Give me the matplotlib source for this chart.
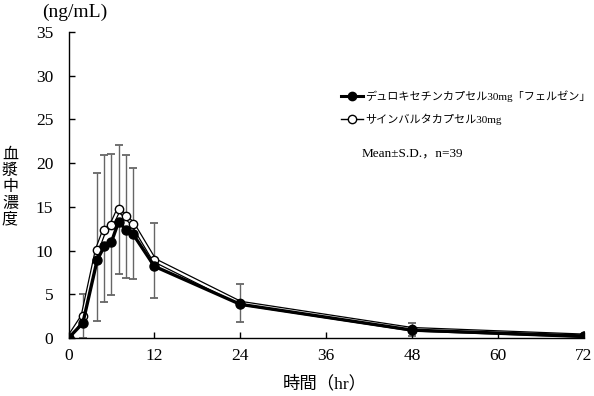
import matplotlib.pyplot as plt
import matplotlib.patheffects as pe
from matplotlib.lines import Line2D
import numpy as np

plt.rcParams['font.family'] = ['Liberation Serif', 'Noto Sans CJK JP']

# sampling times (hr)
time = [0, 2, 4, 5, 6, 7, 8, 9, 12, 24, 48, 72]
# デュロキセチンカプセル30mg「フェルゼン」 (test, lower SD shown)
test_mean = [0, 1.7, 8.9, 10.5, 11.0, 13.3, 12.4, 11.9, 8.2, 3.85, 0.9, 0.23]
test_sd = [0, 1.7, 7.0, 6.4, 6.1, 6.0, 5.5, 5.2, 3.6, 2.0, 0.7, 0.1]
# サインバルタカプセル30mg (reference, upper SD shown)
ref_mean = [0, 2.5, 10.1, 12.3, 12.9, 14.7, 13.9, 13.0, 8.9, 4.0, 1.0, 0.25]
ref_sd = [0, 2.5, 8.8, 8.6, 8.1, 7.4, 7.0, 6.5, 4.3, 2.15, 0.7, 0.1]

test_label = "デュロキセチンカプセル30mg「フェルゼン」"
ref_label = "サインバルタカプセル30mg"
xticks = [0, 12, 24, 36, 48, 60, 72]
yticks = [0, 5, 10, 15, 20, 25, 30, 35]

fig = plt.figure(figsize=(5.94, 3.96), dpi=100)
ax = fig.add_axes([68.5 / 594, 58 / 396, (584 - 68.5) / 594, 306 / 396])

zeros = np.zeros(len(time))
# error bars: upper from reference, lower from test
ax.errorbar(time, ref_mean, yerr=[zeros, ref_sd], fmt='none', ecolor='#666666',
            elinewidth=1, capsize=3, capthick=1.3, zorder=1)
ax.errorbar(time, test_mean, yerr=[test_sd, zeros], fmt='none', ecolor='#666666',
            elinewidth=1, capsize=3, capthick=1.3, zorder=1)

# reference: hollow line (white core with black edges)
ax.plot(time, ref_mean, color='white', lw=1.6, zorder=2,
        path_effects=[pe.Stroke(linewidth=3.4, foreground='black'), pe.Normal()])
ax.plot(time, ref_mean, 'o', ms=6, mfc='white', mec='black', mew=1, zorder=3)

# test: solid black
ax.plot(time, test_mean, '-o', color='black', lw=2.4, ms=6.5, zorder=4)

ax.set_xlim(0, 72)
ax.set_ylim(0, 35)
ax.set_xticks(xticks)
ax.set_yticks(yticks)
ax.tick_params(direction='in', length=4, width=1, labelsize=12.5)
ax.tick_params(axis='y', pad=11)
ax.tick_params(axis='x', pad=7)
ax.spines['top'].set_visible(False)
ax.spines['right'].set_visible(False)
for s in ['left', 'bottom']:
    ax.spines[s].set_linewidth(1)
    ax.spines[s].set_clip_on(False)

fig.text(42 / 594, 1 - 12 / 396, "(ng/mL)", fontsize=14, ha='left', va='center')
fig.text(325 / 594, 1 - 384 / 396, "時間（hr）", fontsize=12.5, ha='center', va='center')
fig.text(10 / 594, 1 - 187 / 396, "\n".join("血漿中濃度"), fontsize=11.5,
         ha='center', va='center', linespacing=1.0)

handles = [
    Line2D([], [], color='black', lw=2.2, marker='o', ms=6),
    Line2D([], [], color='black', lw=1, marker='o', ms=6, mfc='white', mec='black'),
]
fig.legend(handles, [test_label, ref_label], loc='upper left',
           bbox_to_anchor=(341 / 594, 1 - 90 / 396), frameon=False, fontsize=8,
           handlelength=2.0, handletextpad=0.15, labelspacing=1.1,
           borderpad=0, borderaxespad=0)
fig.text(362 / 594, 1 - 153 / 396, "Mean±S.D.，n=39", fontsize=9.5, ha='left', va='center')

fig.savefig('out.png', dpi=100)
